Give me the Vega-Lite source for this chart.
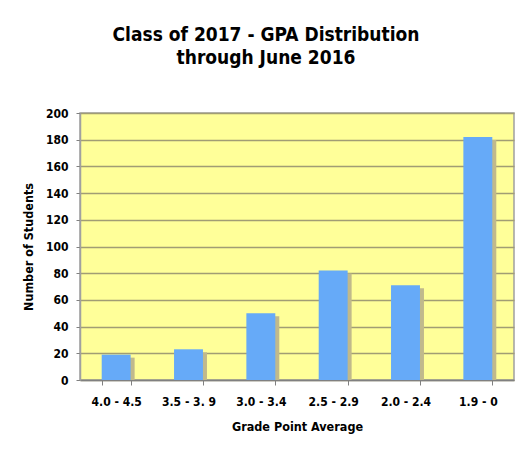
{
  "$schema": "https://vega.github.io/schema/vega-lite/v6.json",
  "autosize": "none",
  "width": 434,
  "height": 267,
  "padding": {"left": 80, "top": 113, "right": 7, "bottom": 70},
  "background": "white",
  "title": {
    "text": ["Class of 2017 - GPA Distribution", "through June 2016"],
    "anchor": "middle",
    "dx": -31,
    "offset": 39,
    "fontSize": 19,
    "lineHeight": 23,
    "font": "DejaVu Sans Condensed",
    "fontWeight": "bold",
    "color": "black"
  },
  "data": {
    "values": [
      {"gpa": "4.0 - 4.5", "n": 19},
      {"gpa": "3.5 - 3. 9", "n": 23},
      {"gpa": "3.0 - 3.4", "n": 50},
      {"gpa": "2.5 - 2.9", "n": 82},
      {"gpa": "2.0 - 2.4", "n": 71},
      {"gpa": "1.9 - 0", "n": 182}
    ]
  },
  "encoding": {
    "x": {
      "field": "gpa",
      "type": "nominal",
      "sort": null,
      "scale": {"paddingInner": 0.6, "paddingOuter": 0.3},
      "axis": {
        "title": "Grade Point Average",
        "labelAngle": 0,
        "tickBand": "extent",
        "tickSize": 5,
        "tickColor": "#808080",
        "domainColor": "#808080",
        "domainWidth": 1.5,
        "labelPadding": 11,
        "labelFontSize": 12,
        "labelFont": "DejaVu Sans Condensed",
        "labelFontWeight": "bold",
        "labelColor": "black",
        "titleFont": "DejaVu Sans Condensed",
        "titleFontSize": 12.5,
        "titleFontWeight": "bold",
        "titleColor": "black",
        "titlePadding": 13
      }
    },
    "y": {
      "field": "n",
      "type": "quantitative",
      "scale": {"domain": [0, 200], "nice": false},
      "axis": {
        "title": "Number of Students",
        "values": [0, 20, 40, 60, 80, 100, 120, 140, 160, 180, 200],
        "tickSize": 4,
        "tickColor": "#808080",
        "domainColor": "#a0a0a0",
        "domainWidth": 1.5,
        "gridColor": "#a19d74",
        "gridWidth": 1.5,
        "labelPadding": 8,
        "labelFontSize": 12,
        "labelFont": "DejaVu Sans Condensed",
        "labelFontWeight": "bold",
        "labelColor": "black",
        "titleFont": "DejaVu Sans Condensed",
        "titleFontSize": 12.5,
        "titleFontWeight": "bold",
        "titleColor": "black",
        "titlePadding": 10
      }
    }
  },
  "layer": [
    {"mark": {"type": "bar", "color": "#c0b98c", "xOffset": 4, "yOffset": 3, "clip": true}},
    {"mark": {"type": "bar", "color": "#66aaf8"}}
  ],
  "config": {
    "view": {"fill": "#ffff99", "stroke": "#a0a0a0", "strokeWidth": 1.5}
  }
}
